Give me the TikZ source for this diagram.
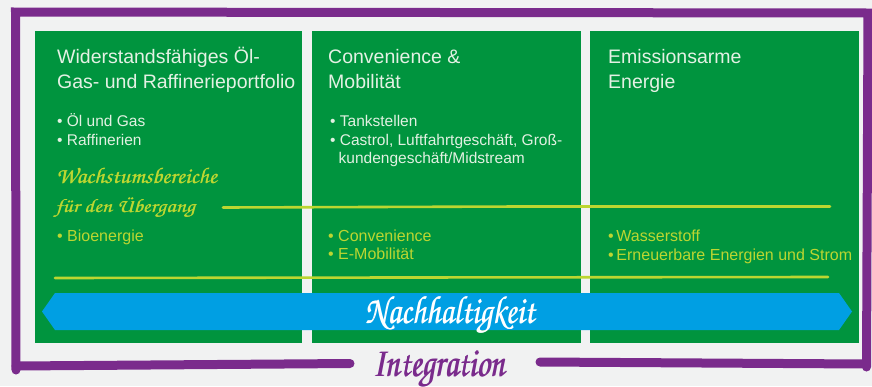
\documentclass[tikz,border=0pt]{standalone}
\usepackage[T1]{fontenc}
\usepackage{fontspec}
\setmainfont{Liberation Sans}
\usepackage{graphicx}
\definecolor{bgcol}{HTML}{F1F2F2}
\definecolor{bpgreen}{HTML}{00943E}
\definecolor{bpblue}{HTML}{009FE3}
\definecolor{bppurple}{HTML}{7A2B8C}
\definecolor{bplime}{HTML}{BCD631}
\definecolor{titlecol}{HTML}{E4F1E4}
\definecolor{itemcol}{HTML}{E2F1E2}
\newcommand\chancery{\fontencoding{T1}\fontfamily{pzc}\fontseries{mb}\fontshape{it}\selectfont}
\newcommand\pbold[1]{\rlap{#1}\kern.2pt #1}
\tikzset{
  title/.style={anchor=base west, inner sep=0pt, text=titlecol, font=\fontsize{19.5}{24}\selectfont},
  item/.style={anchor=base west, inner sep=0pt, text=itemcol, font=\fontsize{15.5}{19}\selectfont},
  gitem/.style={item, text=bplime, font=\fontsize{16}{19}\selectfont},
  script/.style={anchor=base west, inner sep=0pt, text=bplime},
  colbox/.style={fill=bpgreen},
  brush/.style={draw=bppurple, line width=9pt},
  limeline/.style={draw=bplime, line width=2.6pt, line cap=round},
}
\begin{document}
\begin{tikzpicture}[x=1pt,y=-1pt]
\useasboundingbox (0,0) rectangle (872,386);
\fill[bgcol] (0,0) rectangle (872,386);
% purple frame
\draw[brush, line cap=round] (16,370) -- (15.5,12) -- (868,13) -- (866.5,367);
\draw[brush, line cap=round] (16,366) -- (350,363.5);
\draw[brush, line cap=round] (540,362) -- (866,364);
% green columns
\fill[colbox] (35,31) rectangle (302,343);
\fill[colbox] (312,31) rectangle (581,343);
\fill[colbox] (590,31) rectangle (859,343);
% lime lines
\draw[limeline] (223,207.5) -- (520,206.5) -- (830,206.5);
\draw[limeline] (55,278) -- (400,277.5) -- (828,277);
% blue arrow
\fill[bpblue] (42,311.5) -- (55,293) -- (839,293) -- (852,311.5) -- (839,330) -- (55,330) -- cycle;
% column 1
\node[title] (t1a) at (57,63) {Widerstandsfähiges Öl-};
\node[title] (t1b) at (57,88) {Gas- und Raffinerieportfolio};
\node[item] (i1a) at (57,126) {• Öl und Gas};
\node[item] (i1b) at (57,145) {• Raffinerien};
\node[script] (w1) at (56,183) {\resizebox{161pt}{16pt}{\chancery\pbold{Wachstumsbereiche}}};
\node[script] (w2) at (55,212) {\resizebox{140pt}{15pt}{\chancery\pbold{f\"ur den \"Ubergang}}};
\node[gitem] (g1a) at (57,241) {• Bioenergie};
% column 2
\node[title] (t2a) at (328,63) {Convenience \&};
\node[title] (t2b) at (328,88) {Mobilität};
\node[item] (i2a) at (330,126) {• Tankstellen};
\node[item] (i2b) at (330,145) {• Castrol, Luftfahrtgeschäft, Groß-};
\node[item] (i2c) at (338.5,163) {kundengeschäft/Midstream};
\node[gitem] (g2a) at (328,241) {• Convenience};
\node[gitem] (g2b) at (328,259.5) {• E-Mobilität};
% column 3
\node[title] (t3a) at (608,63) {Emissionsarme};
\node[title] (t3b) at (608,88) {Energie};
\node[gitem] (g3a) at (608,241) {•\,Wasserstoff};
\node[gitem] (g3b) at (608,260) {•\,Erneuerbare Energien und Strom};
% script labels
\node[anchor=base, inner sep=0pt, text=white] (nh) at (450,323) {\resizebox{170pt}{28pt}{\chancery\pbold{Nachhaltigkeit}}};
\node[anchor=base, inner sep=0pt, text=bppurple] (ig) at (439,376) {\resizebox{133pt}{26pt}{\chancery\pbold{Integration}}};
\end{tikzpicture}
\end{document}
